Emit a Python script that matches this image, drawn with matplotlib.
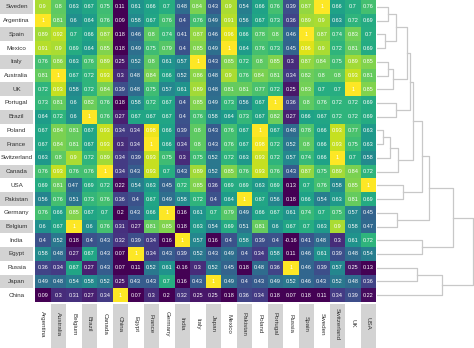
import matplotlib
matplotlib.use("Agg")
import matplotlib.pyplot as plt
import numpy as np

plt.rcParams['font.family'] = ['Liberation Sans', 'DejaVu Sans']

# rows in clustered order, columns alphabetical
row_names = ['Sweden', 'Argentina', 'Spain', 'Mexico', 'Italy', 'Australia', 'UK',
             'Portugal', 'Brazil', 'Poland', 'France', 'Switzerland', 'Canada', 'USA',
             'Pakistan', 'Germany', 'Belgium', 'India', 'Egypt', 'Russia', 'Japan', 'China']
col_names = ['Argentina', 'Australia', 'Belgium', 'Brazil', 'Canada', 'China', 'Egypt',
             'France', 'Germany', 'India', 'Italy', 'Japan', 'Mexico', 'Pakistan', 'Poland',
             'Portugal', 'Russia', 'Spain', 'Sweden', 'Switzerland', 'UK', 'USA']

corr = [
    [0.9, 0.8, 0.63, 0.67, 0.75, 0.11, 0.61, 0.66, 0.7, 0.48, 0.84, 0.43, 0.9, 0.54, 0.66, 0.76, 0.39, 0.87, 1, 0.66, 0.7, 0.76],
    [1, 0.81, 0.6, 0.64, 0.76, 0.09, 0.58, 0.67, 0.76, 0.4, 0.76, 0.49, 0.91, 0.56, 0.67, 0.73, 0.36, 0.89, 0.9, 0.63, 0.72, 0.69],
    [0.89, 0.92, 0.7, 0.66, 0.87, 0.18, 0.46, 0.8, 0.74, 0.41, 0.87, 0.46, 0.96, 0.66, 0.78, 0.8, 0.46, 1, 0.87, 0.74, 0.83, 0.7],
    [0.91, 0.9, 0.69, 0.64, 0.85, 0.18, 0.49, 0.75, 0.79, 0.4, 0.85, 0.49, 1, 0.64, 0.76, 0.73, 0.45, 0.96, 0.9, 0.72, 0.81, 0.69],
    [0.76, 0.86, 0.63, 0.76, 0.89, 0.25, 0.52, 0.8, 0.61, 0.57, 1, 0.43, 0.85, 0.72, 0.8, 0.85, 0.3, 0.87, 0.84, 0.75, 0.89, 0.85],
    [0.81, 1, 0.67, 0.72, 0.93, 0.3, 0.48, 0.84, 0.66, 0.52, 0.86, 0.48, 0.9, 0.76, 0.84, 0.81, 0.34, 0.82, 0.8, 0.8, 0.93, 0.81],
    [0.72, 0.93, 0.58, 0.72, 0.84, 0.39, 0.48, 0.75, 0.57, 0.61, 0.89, 0.48, 0.81, 0.81, 0.77, 0.72, 0.25, 0.83, 0.7, 0.7, 1, 0.85],
    [0.73, 0.81, 0.6, 0.82, 0.76, 0.18, 0.58, 0.72, 0.67, 0.4, 0.85, 0.49, 0.73, 0.56, 0.67, 1, 0.36, 0.8, 0.76, 0.72, 0.72, 0.69],
    [0.64, 0.72, 0.6, 1, 0.76, 0.27, 0.67, 0.67, 0.67, 0.4, 0.76, 0.58, 0.64, 0.73, 0.67, 0.82, 0.27, 0.66, 0.67, 0.72, 0.72, 0.69],
    [0.67, 0.84, 0.81, 0.67, 0.93, 0.34, 0.34, 0.98, 0.66, 0.39, 0.8, 0.43, 0.76, 0.67, 1, 0.67, 0.48, 0.78, 0.66, 0.93, 0.77, 0.63],
    [0.67, 0.84, 0.81, 0.67, 0.93, 0.3, 0.34, 1, 0.66, 0.34, 0.8, 0.43, 0.76, 0.67, 0.98, 0.72, 0.52, 0.8, 0.66, 0.93, 0.75, 0.63],
    [0.63, 0.8, 0.9, 0.72, 0.89, 0.34, 0.39, 0.93, 0.75, 0.3, 0.75, 0.52, 0.72, 0.63, 0.93, 0.72, 0.57, 0.74, 0.66, 1, 0.7, 0.58],
    [0.76, 0.93, 0.76, 0.76, 1, 0.34, 0.43, 0.93, 0.7, 0.43, 0.89, 0.52, 0.85, 0.76, 0.93, 0.76, 0.43, 0.87, 0.75, 0.89, 0.84, 0.72],
    [0.69, 0.81, 0.47, 0.69, 0.72, 0.22, 0.54, 0.63, 0.45, 0.72, 0.85, 0.36, 0.69, 0.69, 0.63, 0.69, 0.13, 0.7, 0.76, 0.58, 0.85, 1],
    [0.56, 0.76, 0.51, 0.73, 0.76, 0.36, 0.4, 0.67, 0.49, 0.58, 0.72, 0.4, 0.64, 1, 0.67, 0.56, 0.18, 0.66, 0.54, 0.63, 0.81, 0.69],
    [0.76, 0.66, 0.85, 0.67, 0.7, 0.2, 0.43, 0.66, 1, 0.16, 0.61, 0.7, 0.79, 0.49, 0.66, 0.67, 0.61, 0.74, 0.7, 0.75, 0.57, 0.45],
    [0.6, 0.67, 1, 0.6, 0.76, 0.31, 0.27, 0.81, 0.85, 0.18, 0.63, 0.54, 0.69, 0.51, 0.81, 0.6, 0.67, 0.7, 0.63, 0.9, 0.58, 0.47],
    [0.4, 0.52, 0.18, 0.4, 0.43, 0.32, 0.39, 0.34, 0.16, 1, 0.57, 0.16, 0.4, 0.58, 0.39, 0.4, -0.16, 0.41, 0.48, 0.3, 0.61, 0.72],
    [0.58, 0.48, 0.27, 0.67, 0.43, 0.07, 1, 0.34, 0.43, 0.39, 0.52, 0.43, 0.49, 0.4, 0.34, 0.58, 0.11, 0.46, 0.61, 0.39, 0.48, 0.54],
    [0.36, 0.34, 0.67, 0.27, 0.43, 0.07, 0.11, 0.52, 0.61, -0.16, 0.3, 0.52, 0.45, 0.18, 0.48, 0.36, 1, 0.46, 0.39, 0.57, 0.25, 0.13],
    [0.49, 0.48, 0.54, 0.58, 0.52, 0.25, 0.43, 0.43, 0.7, 0.16, 0.43, 1, 0.49, 0.4, 0.43, 0.49, 0.52, 0.46, 0.43, 0.52, 0.48, 0.36],
    [0.09, 0.3, 0.31, 0.27, 0.34, 1, 0.07, 0.3, 0.2, 0.32, 0.25, 0.25, 0.18, 0.36, 0.34, 0.18, 0.07, 0.18, 0.11, 0.34, 0.39, 0.22],
]

# row dendrogram: (left child, right child, height); leaves 0..21, new clusters 22..
links = [
    (0, 1, 11), (2, 3, 8), (22, 23, 19), (4, 5, 11), (25, 6, 16), (24, 26, 30),
    (7, 8, 19), (27, 28, 33), (9, 10, 6), (30, 11, 13), (31, 12, 21), (29, 32, 36),
    (13, 14, 26), (33, 34, 45), (15, 16, 20), (35, 36, 52), (17, 18, 45), (37, 38, 76),
    (19, 20, 40), (40, 21, 65), (39, 41, 96),
]

data = np.array(corr)
nr, nc = data.shape
W, H = 474, 348
fig = plt.figure(figsize=(W / 100, H / 100), dpi=100)

top, bot = 0, 302
ax = fig.add_axes([35 / W, 1 - bot / H, (376 - 35) / W, (bot - top) / H])
ax.pcolormesh(data, cmap='viridis', vmin=0.2, vmax=1)
ax.set_xlim(0, nc)
ax.set_ylim(nr, 0)
ax.axis('off')
for i in range(nr):
    for j in range(nc):
        lbl = f"{data[i, j]:.2f}".rstrip('0').rstrip('.')
        ax.text(j + 0.5, i + 0.5, lbl, ha='center', va='center', color='white', fontsize=4)

# row labels with alternating boxes
axr = fig.add_axes([0, 1 - bot / H, 33 / W, (bot - top) / H])
for i, name in enumerate(row_names):
    axr.barh(i + 0.5, 1, height=1, color='#d3d3d3' if i % 2 == 0 else 'white')
    axr.text(0.5, i + 0.5, name, ha='center', va='center', fontsize=4.5, color='#333333')
axr.set_xlim(0, 1)
axr.set_ylim(nr, 0)
axr.axis('off')

# column labels
axc = fig.add_axes([35 / W, 0, (376 - 35) / W, (348 - 304) / H])
for j, name in enumerate(col_names):
    axc.bar(j + 0.5, 1, width=1, bottom=0, color='#d3d3d3' if j % 2 == 1 else 'white')
    axc.text(j + 0.5, 0.55, name, rotation=270, ha='center', va='center', fontsize=4.5, color='#333333')
axc.set_xlim(0, nc)
axc.set_ylim(0, 1)
axc.axis('off')

# dendrogram
axd = fig.add_axes([377 / W, 1 - bot / H, (474 - 377) / W, (bot - top) / H])
pos = {i: (0.0, i + 0.5) for i in range(nr)}
for k, (a, b, h) in enumerate(links):
    xa, ya = pos[a]
    xb, yb = pos[b]
    axd.plot([xa, h, h, xb], [ya, ya, yb, yb], color='#c8c8c8', lw=0.9)
    pos[nr + k] = (h, (ya + yb) / 2)
axd.set_xlim(0, 96.6)
axd.set_ylim(nr, 0)
axd.axis('off')

fig.savefig('out.png', dpi=100)
